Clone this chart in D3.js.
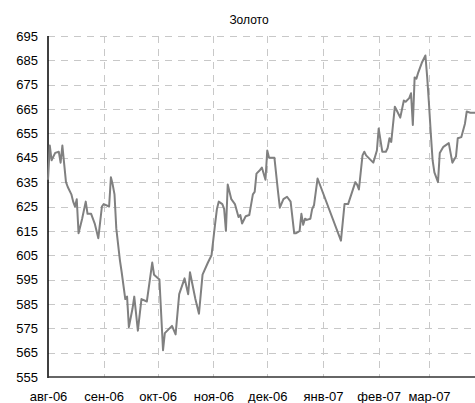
<!DOCTYPE html>
<html><head><meta charset="utf-8">
<script src="https://cdn.jsdelivr.net/npm/d3@7"></script>
<style>body{margin:0;background:#fff}svg{display:block}text{font-family:"Liberation Sans",Arial,sans-serif;fill:#000}</style>
</head><body>
<svg id="c" width="475" height="403"></svg>
<script>
const title = "Золото";
const monthLabels = ["авг-06","сен-06","окт-06","ноя-06","дек-06","янв-07","фев-07","мар-07"];
const monthDates = ["2006-08-01","2006-09-01","2006-10-01","2006-11-01","2006-12-01","2007-01-01","2007-02-01","2007-03-01"];
const yTicks = [555,565,575,585,595,605,615,625,635,645,655,665,675,685,695];
const dates = [
"2006-08-01","2006-08-02","2006-08-03","2006-08-05","2006-08-07","2006-08-08","2006-08-09","2006-08-11","2006-08-12","2006-08-14",
"2006-08-15","2006-08-16","2006-08-17","2006-08-18","2006-08-20","2006-08-22","2006-08-23","2006-08-25","2006-08-27","2006-08-29",
"2006-08-31","2006-09-01","2006-09-04","2006-09-05","2006-09-06","2006-09-07","2006-09-08","2006-09-10","2006-09-11","2006-09-13",
"2006-09-14","2006-09-15","2006-09-17","2006-09-18","2006-09-20","2006-09-22","2006-09-25","2006-09-28","2006-09-29","2006-10-02",
"2006-10-04","2006-10-05","2006-10-09","2006-10-11","2006-10-13","2006-10-16","2006-10-18","2006-10-19","2006-10-22","2006-10-24",
"2006-10-26","2006-10-29","2006-10-31","2006-11-02","2006-11-03","2006-11-04","2006-11-06","2006-11-07","2006-11-08","2006-11-09",
"2006-11-11","2006-11-13","2006-11-15","2006-11-16","2006-11-17","2006-11-19","2006-11-21","2006-11-23","2006-11-24","2006-11-25",
"2006-11-27","2006-11-28","2006-11-30","2006-12-01","2006-12-02","2006-12-04","2006-12-05","2006-12-07","2006-12-08","2006-12-10",
"2006-12-12","2006-12-14","2006-12-16","2006-12-17","2006-12-18","2006-12-19","2006-12-20","2006-12-21","2006-12-22","2006-12-23",
"2006-12-25","2006-12-26","2006-12-27","2006-12-29","2007-01-11","2007-01-13","2007-01-15","2007-01-17","2007-01-19","2007-01-20",
"2007-01-21","2007-01-23","2007-01-24","2007-01-25","2007-01-29","2007-01-31","2007-02-01","2007-02-03","2007-02-05","2007-02-06",
"2007-02-07","2007-02-08","2007-02-10","2007-02-11","2007-02-13","2007-02-15","2007-02-16","2007-02-18","2007-02-19","2007-02-20",
"2007-02-21","2007-02-22","2007-02-23","2007-02-25","2007-02-27","2007-02-28","2007-03-01","2007-03-02","2007-03-03","2007-03-04",
"2007-03-06","2007-03-07","2007-03-09","2007-03-12","2007-03-14","2007-03-16","2007-03-17","2007-03-19","2007-03-21","2007-03-22",
"2007-03-24","2007-03-26","2007-03-27"
];
const gold = [
636,650,644,647,647.5,643,650,635,633,630,
627,625,628,614,620,627,622,622,618,612,
625,626,625,637,634,630,616,603,598,587,
588,575.5,583,588,574,587,586,602,597,595,
566,573,576,572.5,589,595.5,589,598,587,581,
597,602,605,618,624,627,626,624,615,634,
628,626,620.7,621.5,618,621,621.5,630,631,638.5,
640,641,636,648,645,645,645,631,624.5,628,
629,627,614,614,614.5,615,622,617.5,620,619.5,
620,624,625.5,636.5,611,626,626,630.5,635,634,
632,646,647.5,646,643,648,657,647.5,647.5,649,
653,651.5,666,664.5,661.5,668.5,668,669.5,671.5,658.5,
678,677.5,680,684,687,678,667,655,644,639,
635,647,649.5,651,643,645.5,653,653.5,659,664,
663.5,663.5,663.5
];

const parse = d3.timeParse("%Y-%m-%d");
const data = dates.map((d,i)=>({date:parse(d), v:gold[i]}));
const svg = d3.select("#c");
const L=48, R=475, T=36, B=377;
const x = d3.scaleTime().domain([parse(monthDates[0]), parse(monthDates[7])]).range([L, 429]);
const y = d3.scaleLinear().domain([555,695]).range([B, T]);

// grid
svg.append("g").selectAll("line").data(yTicks.filter(t=>t>555)).join("line")
  .attr("x1",L).attr("x2",R).attr("y1",d=>Math.round(y(d))+0.5).attr("y2",d=>Math.round(y(d))+0.5)
  .attr("stroke","#c8c8c8").attr("stroke-width",1).attr("stroke-dasharray","7,6");
svg.append("g").selectAll("line").data(monthDates.slice(1)).join("line")
  .attr("x1",d=>Math.round(x(parse(d)))+0.5).attr("x2",d=>Math.round(x(parse(d)))+0.5)
  .attr("y1",T).attr("y2",B).attr("stroke","#c8c8c8").attr("stroke-width",1).attr("stroke-dasharray","7,6");

// y axis
const yAxis = d3.axisLeft(y).tickValues(yTicks).tickSize(0).tickPadding(10);
const gy = svg.append("g").attr("transform",`translate(${L},0)`).call(yAxis);
gy.select(".domain").remove();
gy.selectAll("text").style("font-size","13px").style("font-family","Liberation Sans, Arial, sans-serif").attr("fill","#000");

// x axis
const xAxis = d3.axisBottom(x).tickValues(monthDates.map(parse)).tickFormat((d,i)=>monthLabels[i]).tickSize(0).tickPadding(15);
const gx = svg.append("g").attr("transform",`translate(0,${B})`).call(xAxis);
gx.select(".domain").remove();
gx.selectAll("text").style("font-size","13px").style("font-family","Liberation Sans, Arial, sans-serif").attr("fill","#000");

// axis lines
svg.append("line").attr("x1",L).attr("x2",L).attr("y1",T).attr("y2",B+1).attr("stroke","#000").attr("stroke-width",1.5);
svg.append("line").attr("x1",L).attr("x2",R).attr("y1",B).attr("y2",B).attr("stroke","#333").attr("stroke-width",1.5);

// line
const line = d3.line().x(d=>x(d.date)).y(d=>y(d.v));
svg.append("path").datum(data).attr("d",line).attr("fill","none").attr("stroke","#808080").attr("stroke-width",2).attr("stroke-linejoin","round");

// title
svg.append("text").attr("x",249).attr("y",24).attr("text-anchor","middle").style("font-size","12px").text(title);
</script>
</body></html>
